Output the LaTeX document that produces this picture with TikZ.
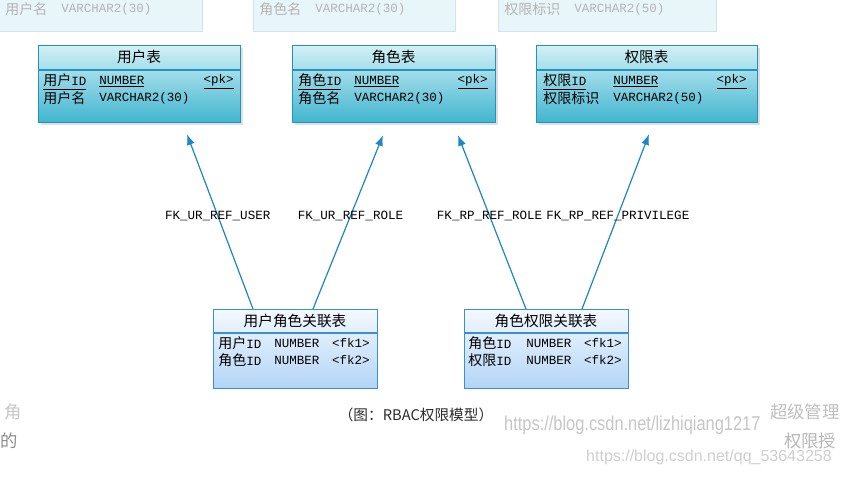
\documentclass[tikz,border=0pt]{standalone}
\usepackage{fontspec}
\setmainfont{Liberation Sans}
\newfontfamily\cjkfont{Noto Sans CJK SC}
\newfontfamily\monof{Liberation Mono}
\usetikzlibrary{arrows.meta,shadows}
\definecolor{tbtop}{HTML}{D2F0F6}
\definecolor{tbbot}{HTML}{40B5CF}
\definecolor{tbline}{HTML}{2294BC}
\definecolor{reltop}{HTML}{F4F9FF}
\definecolor{relbot}{HTML}{B2D4F5}
\definecolor{relline}{HTML}{3B90CF}
\definecolor{fkline}{HTML}{1C87C6}
\definecolor{ghfill}{HTML}{E8F6FA}
\definecolor{ghline}{HTML}{CDE5EE}
\definecolor{ghtext}{HTML}{B4B4B4}
\definecolor{wmark}{HTML}{C6C6C6}
\definecolor{capt}{HTML}{2B2B2B}
\newcommand\zh[1]{{\cjkfont\fontsize{10.5}{12}\selectfont #1}}

\begin{document}
\begin{tikzpicture}[x=0.75pt, y=-0.75pt,
    tbl/.style={draw=tbline, line width=0.9pt, top color=tbtop, bottom color=tbbot, anchor=north west,
      inner sep=0pt, minimum height=57.75pt, drop shadow={shadow xshift=1.5pt, shadow yshift=-1.5pt, opacity=0.25}},
    rel/.style={draw=relline, line width=0.9pt, top color=reltop, bottom color=relbot, anchor=north west,
      inner sep=0pt, minimum width=123pt, minimum height=59.25pt},
    sep/.style={line width=0.8pt},
    hd/.style={font=\cjkfont\fontsize{11}{13}\selectfont, inner sep=0pt},
    fld/.style={font=\monof\fontsize{9.4}{11}\selectfont, anchor=west, inner sep=0pt},
    fk/.style={draw=fkline, line width=0.9pt, -{Latex[length=8pt, width=6pt]}},
    lbl/.style={font=\monof\fontsize{9.4}{11}\selectfont, inner sep=0pt, pos=0.535},
    ghost/.style={draw=ghline, fill=ghfill, anchor=south west, inner sep=0pt, minimum height=45pt},
    ghfld/.style={fld, text=ghtext},
    frag/.style={font=\cjkfont\fontsize{13}{15}\selectfont, anchor=west, inner sep=0pt}]

  \useasboundingbox (0,0) rectangle (841,476);
  \clip (0,0) rectangle (841,476);
  \fill[white] (0,0) rectangle (841,476);

  % ── faded rows of the previous screenshot ──
  \node[ghost, minimum width=155.25pt] (g1) at (-5,32) {};
  \node[ghost, minimum width=151.5pt]  (g2) at (253,32) {};
  \node[ghost, minimum width=163.5pt]  (g3) at (498,32) {};
  \node[ghfld] (g1a) at (5,9)   {\zh{用户名}};
  \node[ghfld] (g1b) at (61,9)  {VARCHAR2(30)};
  \node[ghfld] (g2a) at (259,9) {\zh{角色名}};
  \node[ghfld] (g2b) at (315,9) {VARCHAR2(30)};
  \node[ghfld] (g3a) at (504,9) {\zh{权限标识}};
  \node[ghfld] (g3b) at (574,9) {VARCHAR2(50)};

  % ── entity tables ──
  \node[tbl, minimum width=151.5pt]  (user) at (38,45)  {};
  \node[tbl, minimum width=152.25pt] (role) at (292,45) {};
  \node[tbl, minimum width=165.75pt] (priv) at (536,45) {};
  \draw[tbline, sep] (user.west |- 0,70) -- (user.east |- 0,70);
  \draw[tbline, sep] (role.west |- 0,70) -- (role.east |- 0,70);
  \draw[tbline, sep] (priv.west |- 0,70) -- (priv.east |- 0,70);
  \node[hd] (userh) at (139,57)   {用户表};
  \node[hd] (roleh) at (393.5,57) {角色表};
  \node[hd] (privh) at (646.5,57) {权限表};

  \node[fld] (u1a) at (43,82) {\underline{\zh{用户}ID}};
  \node[fld] (u1b) at (99,82) {\underline{NUMBER}};
  \node[fld, anchor=east] (u1c) at (234,82) {\underline{<pk>}};
  \node[fld] (u2a) at (43,98) {\zh{用户名}};
  \node[fld] (u2b) at (99,98) {VARCHAR2(30)};

  \node[fld] (r1a) at (298,82) {\underline{\zh{角色}ID}};
  \node[fld] (r1b) at (354,82) {\underline{NUMBER}};
  \node[fld, anchor=east] (r1c) at (488,82) {\underline{<pk>}};
  \node[fld] (r2a) at (298,98) {\zh{角色名}};
  \node[fld] (r2b) at (354,98) {VARCHAR2(30)};

  \node[fld] (p1a) at (543,82) {\underline{\zh{权限}ID}};
  \node[fld] (p1b) at (613,82) {\underline{NUMBER}};
  \node[fld, anchor=east] (p1c) at (747,82) {\underline{<pk>}};
  \node[fld] (p2a) at (543,98) {\zh{权限标识}};
  \node[fld] (p2b) at (613,98) {VARCHAR2(50)};

  % ── link tables ──
  \node[rel] (ur) at (213,309) {};
  \node[rel] (rp) at (464,309) {};
  \draw[relline, sep] (ur.west |- 0,333) -- (ur.east |- 0,333);
  \draw[relline, sep] (rp.west |- 0,333) -- (rp.east |- 0,333);
  \node[hd] (urh) at (295,321) {用户角色关联表};
  \node[hd] (rph) at (546,321) {角色权限关联表};

  \node[fld] (ur1a) at (218,343) {\zh{用户}ID};
  \node[fld] (ur1b) at (274,343) {NUMBER};
  \node[fld, anchor=east] (ur1c) at (370,343) {<fk1>};
  \node[fld] (ur2a) at (218,360) {\zh{角色}ID};
  \node[fld] (ur2b) at (274,360) {NUMBER};
  \node[fld, anchor=east] (ur2c) at (370,360) {<fk2>};

  \node[fld] (rp1a) at (468,343) {\zh{角色}ID};
  \node[fld] (rp1b) at (526,343) {NUMBER};
  \node[fld, anchor=east] (rp1c) at (622,343) {<fk1>};
  \node[fld] (rp2a) at (468,360) {\zh{权限}ID};
  \node[fld] (rp2b) at (526,360) {NUMBER};
  \node[fld, anchor=east] (rp2c) at (622,360) {<fk2>};

  % ── foreign keys ──
  \draw[fk] ([xshift=30pt]ur.north west) -- node[lbl] (fk1) {FK\_UR\_REF\_USER}
    ([xshift=111.75pt, yshift=-8.25pt]user.south west);
  \draw[fk] ([xshift=75pt]ur.north west) -- node[lbl] (fk2) {FK\_UR\_REF\_ROLE}
    ([xshift=68.25pt, yshift=-9pt]role.south west);
  \draw[fk] ([xshift=46.5pt]rp.north west) -- node[lbl] (fk3) {FK\_RP\_REF\_ROLE}
    ([xshift=124.5pt, yshift=-9pt]role.south west);
  \draw[fk] ([xshift=88.5pt]rp.north west) -- node[lbl] (fk4) {FK\_RP\_REF\_PRIVILEGE}
    ([xshift=84.75pt, yshift=-8.25pt]priv.south west);

  % ── caption and page text below ──
  \node[font=\cjkfont\fontsize{11}{13}\selectfont, text=capt, inner sep=0pt] (cap) at (416,415)
    {（图：RBAC权限模型）};
  \node[font=\fontsize{15}{17}\selectfont, text=wmark, anchor=west, inner sep=0pt,
    xscale=0.82, transform shape] (wm1) at (504,425) {https://blog.csdn.net/lizhiqiang1217};
  \node[font=\fontsize{12}{14}\selectfont, text=wmark!85, anchor=east, inner sep=0pt] (wm2) at (832,457)
    {https://blog.csdn.net/qq\_53643258};
  \node[frag, text=black!22] (t1) at (4,412)   {角};
  \node[frag, text=black!25] (t2) at (770,412) {超级管理};
  \node[frag, text=black!45] (t3) at (0,441)   {的};
  \node[frag, text=black!28] (t4) at (784,441) {权限授};
\end{tikzpicture}
\end{document}
